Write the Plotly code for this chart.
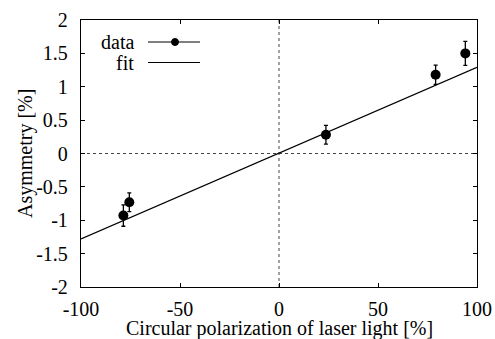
import plotly.graph_objects as go

# Data
pol_x = [-78.6, -75.6, 23.7, 79.1, 94.1]
asym_y = [-0.93, -0.73, 0.28, 1.18, 1.50]
asym_err = [0.16, 0.14, 0.14, 0.145, 0.18]
fit_x = [-100, 100]
fit_y = [-1.28, 1.29]

x_ticks = [-100, -50, 0, 50, 100]
y_ticks = [-2, -1.5, -1, -0.5, 0, 0.5, 1, 1.5, 2]
y_tick_text = ["-2", "-1.5", "-1", "-0.5", "0", "0.5", "1", "1.5", "2"]

FONT = "Liberation Serif"
FS = 20

fig = go.Figure()
fig.add_trace(go.Scatter(
    x=fit_x, y=fit_y, mode="lines", line=dict(color="black", width=1.2),
    showlegend=False, name="fit"))
fig.add_trace(go.Scatter(
    x=pol_x, y=asym_y, mode="markers",
    marker=dict(color="black", size=10, symbol="circle"),
    error_y=dict(type="data", array=asym_err, color="black", thickness=1.3, width=2),
    showlegend=False, name="data"))

shapes = [
    dict(type="line", xref="x", yref="paper", x0=0, x1=0, y0=0, y1=1,
         line=dict(color="#444", width=1, dash="dot"), layer="below"),
    dict(type="line", xref="paper", yref="y", x0=0, x1=1, y0=0, y1=0,
         line=dict(color="#444", width=1, dash="dot"), layer="below"),
]
# manual legend (gnuplot style)
L, R, T, B = 81, 18, 20, 52
pw = 495 - L - R
ph = 339 - T - B
def px(xp):
    return (xp - L) / pw
def py(yp):
    return 1 - (yp - T) / ph
shapes += [
    dict(type="line", xref="paper", yref="paper", x0=px(148), x1=px(200), y0=py(42), y1=py(42),
         line=dict(color="black", width=1.2)),
    dict(type="circle", xref="paper", yref="paper", xsizemode="pixel", ysizemode="pixel",
         xanchor=px(175), yanchor=py(42), x0=-3.5, x1=3.5, y0=-3.5, y1=3.5,
         fillcolor="black", line=dict(color="black", width=1)),
    dict(type="line", xref="paper", yref="paper", x0=px(148), x1=px(200), y0=py(62.5), y1=py(62.5),
         line=dict(color="black", width=1.2)),
]
annotations = [
    dict(text="data", xref="paper", yref="paper", x=px(136), y=py(42), xanchor="right",
         yanchor="middle", showarrow=False, font=dict(family=FONT, size=FS, color="black")),
    dict(text="fit", xref="paper", yref="paper", x=px(136), y=py(62.5), xanchor="right",
         yanchor="middle", showarrow=False, font=dict(family=FONT, size=FS, color="black")),
    dict(text="Circular polarization of laser light [%]", xref="paper", yref="paper",
         x=0.5, y=py(328), xanchor="center", yanchor="middle", showarrow=False,
         font=dict(family=FONT, size=FS, color="black")),
    dict(text="Asymmetry [%]", xref="paper", yref="paper", textangle=-90,
         x=px(25), y=py(154), xanchor="center", yanchor="middle", showarrow=False,
         font=dict(family=FONT, size=FS, color="black")),
]

axis_common = dict(
    showline=True, linecolor="black", linewidth=1.3, mirror="ticks",
    ticks="inside", ticklen=4, tickcolor="black", tickwidth=1,
    showgrid=False, zeroline=False, automargin=False,
    tickfont=dict(family=FONT, size=FS, color="black"),
)

fig.update_layout(
    width=495, height=339,
    margin=dict(l=L, r=R, t=T, b=B),
    paper_bgcolor="white", plot_bgcolor="white",
    shapes=shapes, annotations=annotations,
    xaxis=dict(range=[-100, 100], tickvals=x_ticks, ticktext=[str(v) for v in x_ticks],
               ticklabelstandoff=4, **axis_common),
    yaxis=dict(range=[-2, 2], tickvals=y_ticks, ticktext=y_tick_text,
               ticklabelstandoff=8, **axis_common),
)

fig.write_html("out.html", config={"displayModeBar": False},
               post_script="document.body.style.margin='0';")
